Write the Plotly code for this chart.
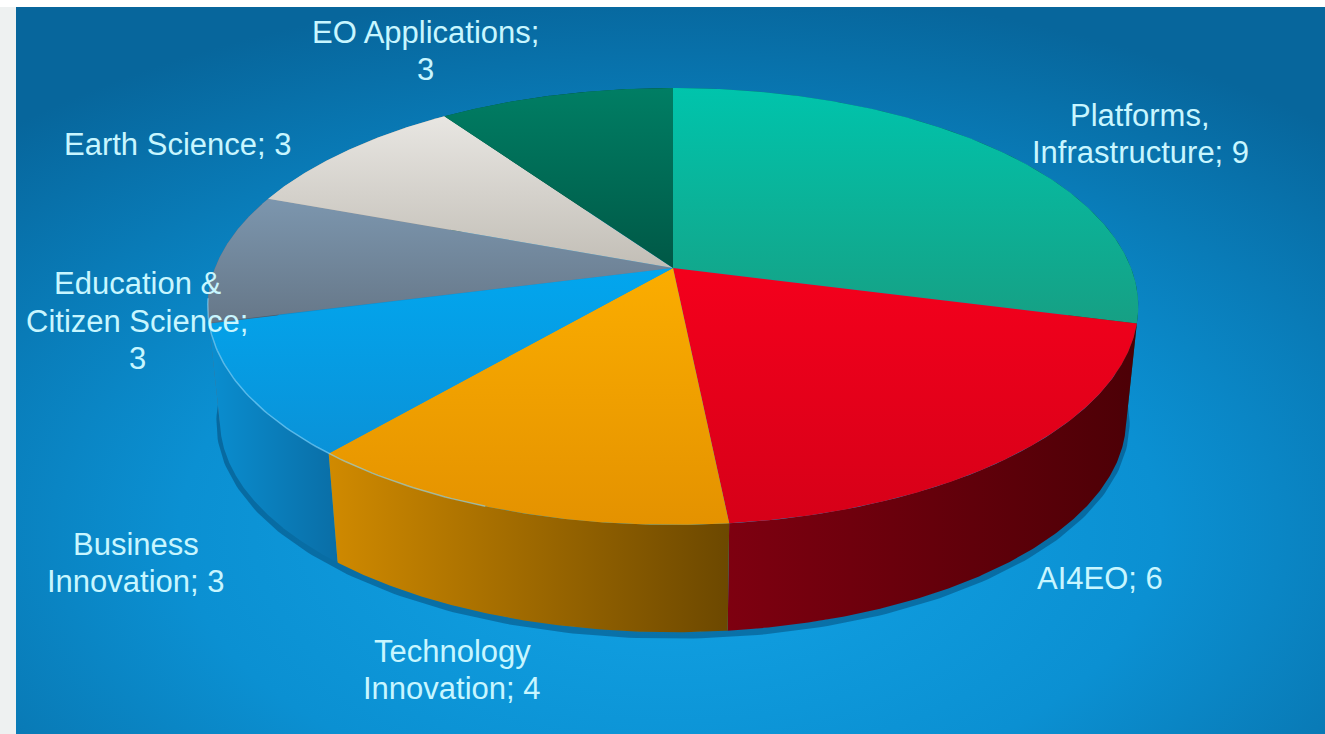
import base64
import numpy as np
import plotly.graph_objects as go

# ---------------- data ----------------
categories = ["Platforms, Infrastructure", "AI4EO", "Technology Innovation",
              "Business Innovation", "Education & Citizen Science",
              "Earth Science", "EO Applications"]
values = [9, 6, 4, 3, 3, 3, 3]
label_names = ["Platforms,<br>Infrastructure", "AI4EO", "Technology<br>Innovation",
               "Business<br>Innovation", "Education &<br>Citizen Science",
               "Earth Science", "EO Applications"]
label_seps = ["; ", "; ", "; ", "; ", ";<br>", "; ", ";<br>"]

# styles (top colour, lower colour)
top_colors = [("#00c4ac", "#16a084"), ("#f4001c", "#d60018"), ("#fbad00", "#e49200"),
              ("#02a6ee", "#0a92d8"), ("#7c96ae", "#667788"), ("#e8e6e2", "#c2beb6"),
              ("#007e64", "#005846")]
side_colors = [("#00806a", "#005a4a"), ("#7e0010", "#4c0006"), ("#d08a00", "#6c4800"),
               ("#0a8ed0", "#0a6ea6"), ("#5c6a7a", "#4a5868"), ("#aaa69e", "#8e8a82"),
               ("#004c3c", "#003a2e")]
label_pos = [(1140, 134), (1100, 578), (452, 670), (136, 563), (137, 321), (177, 144), (425, 51)]
W, H = 1325, 734
FONT = "Liberation Sans, Arial, sans-serif"
TXT = "#c8f6ff"

# ---------------- projection of a tilted 3D disc ----------------
CX, CY = 673.0, 268.0
A, B, K = 458.0, 211.7, 0.176
DEPTH, SHRINK = 114.0, 0.026


def proj(theta_deg, z):
    t = np.radians(theta_deg)
    u, v = np.sin(t), np.cos(t)
    s = 1.0 / (1.0 + K * v)
    f = 1.0 - SHRINK * z
    return CX + A * u * s * f, CY - B * v * s * f + DEPTH * z


total = float(sum(values))
bounds = np.concatenate([[0.0], np.cumsum(values) / total * 360.0])

fig = go.Figure()

# shadow under the front bottom edge
th = np.linspace(95, 265, 200)
sx, sy = proj(th, 1.0)
fig.add_trace(go.Scatter(x=sx, y=sy + 3, mode="lines",
                         line=dict(color="rgba(0,35,70,0.35)", width=7),
                         hoverinfo="skip", showlegend=False))

# side walls, back ones first
order = sorted(range(len(values)),
               key=lambda i: -np.cos(np.radians((bounds[i] + bounds[i + 1]) / 2)))
for i in order:
    a0, a1 = bounds[i], bounds[i + 1]
    th = np.linspace(a0, a1, 160)
    tx, ty = proj(th, 0.0)
    bx, by = proj(th[::-1], 1.0)
    c0, c1 = side_colors[i]
    fig.add_trace(go.Scatter(x=np.concatenate([tx, bx, tx[:1]]),
                             y=np.concatenate([ty, by, ty[:1]]),
                             mode="lines", fill="toself", line=dict(width=0, color=c1),
                             fillgradient=dict(type="horizontal",
                                               colorscale=[[0, c0], [1, c1]]),
                             hoverinfo="skip", showlegend=False))

# top faces (gradient: colorscale 0 lands at the screen bottom)
for i in range(len(values)):
    a0, a1 = bounds[i], bounds[i + 1]
    th = np.linspace(a0, a1, 200)
    rx, ry = proj(th, 0.0)
    xs = np.concatenate([[CX], rx, [CX]])
    ys = np.concatenate([[CY], ry, [CY]])
    c0, c1 = top_colors[i]
    fig.add_trace(go.Scatter(x=xs, y=ys, mode="lines", fill="toself",
                             line=dict(width=0, color=c0),
                             fillgradient=dict(type="vertical",
                                               colorscale=[[0, c1], [1, c0]]),
                             name=categories[i], hoverinfo="name", showlegend=False))

# light rim highlight on front-left edge
th = np.linspace(200, 262, 80)
hx, hy = proj(th, 0.0)
fig.add_trace(go.Scatter(x=hx, y=hy, mode="lines",
                         line=dict(color="rgba(150,220,255,0.55)", width=1.5),
                         hoverinfo="skip", showlegend=False))

# labels
LINE = 37.5
annotations = []
for name, sep, v, (lx, ly) in zip(label_names, label_seps, values, label_pos):
    lines = (name + sep + str(v)).split("<br>")
    n = len(lines)
    for j, ln in enumerate(lines):
        annotations.append(dict(x=lx, y=ly + (j - (n - 1) / 2) * LINE, xref="x", yref="y",
                                text=ln, showarrow=False, xanchor="center", yanchor="middle",
                                font=dict(family=FONT, size=31, color=TXT)))

# background: light strips plus blue radial gradient panel
svg = f"""<svg xmlns='http://www.w3.org/2000/svg' width='{W}' height='{H}'>
<defs><radialGradient id='g' cx='0.5' cy='0.72' r='0.75' gradientUnits='objectBoundingBox'>
<stop offset='0' stop-color='#12a4e6'/><stop offset='0.5' stop-color='#0b90d2'/>
<stop offset='1' stop-color='#07669c'/></radialGradient></defs>
<rect x='0' y='0' width='{W}' height='{H}' fill='#eef1f1'/>
<rect x='0' y='0' width='{W}' height='7' fill='#ffffff'/>
<rect x='16' y='7' width='{W - 16}' height='{H - 7}' fill='url(#g)'/>
</svg>"""
src = "data:image/svg+xml;base64," + base64.b64encode(svg.encode()).decode()

fig.update_layout(
    width=W, height=H, margin=dict(l=0, r=0, t=0, b=0),
    paper_bgcolor="#eef1f1", plot_bgcolor="rgba(0,0,0,0)",
    xaxis=dict(range=[0, W], visible=False, fixedrange=True),
    yaxis=dict(range=[H, 0], visible=False, fixedrange=True),
    annotations=annotations,
    images=[dict(source=src, xref="paper", yref="paper", x=0, y=1, sizex=1, sizey=1,
                 xanchor="left", yanchor="top", sizing="stretch", layer="below")],
    showlegend=False,
)

fig.write_html("out.html")
